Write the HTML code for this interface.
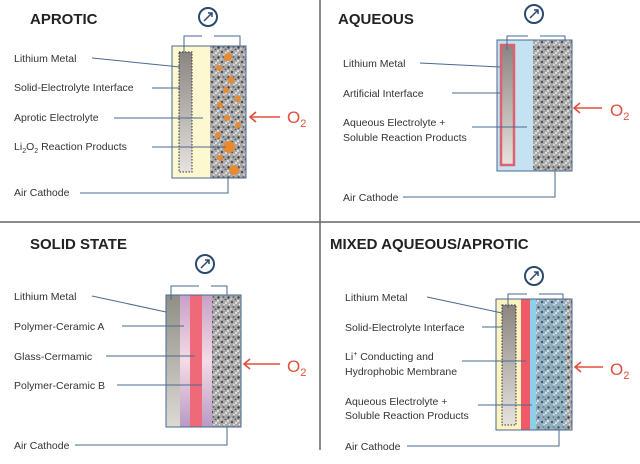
<!DOCTYPE html>
<html><head><meta charset="utf-8"><style>
html,body{margin:0;padding:0;background:#fff}
svg{display:block}
text{font-family:"Liberation Sans",sans-serif;font-size:10.5px;fill:#333}
.t{font-size:15px;font-weight:bold;fill:#222}
.o{font-size:17px;fill:#e0503c}
.l{stroke:#4a6a90;stroke-width:1;fill:none}
.a{stroke:#e0503c;stroke-width:1.6;fill:none}
</style></head><body>
<svg width="640" height="464" viewBox="0 0 640 464" xmlns="http://www.w3.org/2000/svg">
<defs>
<pattern id="por" width="10" height="10" patternUnits="userSpaceOnUse">
<rect width="10" height="10" fill="#a8a8a8"/>
<circle cx="2" cy="2" r="1.1" fill="#444"/><circle cx="6" cy="3" r="1" fill="#eee"/>
<circle cx="8.5" cy="7.5" r="1.2" fill="#3a3a3a"/><circle cx="3.5" cy="7" r="1" fill="#666"/>
<circle cx="8" cy="1" r="0.9" fill="#fff"/><circle cx="1" cy="9" r="0.9" fill="#ddd"/>
<circle cx="5.5" cy="9.5" r="0.9" fill="#555"/><circle cx="9.5" cy="4.5" r="0.8" fill="#f4f4f4"/>
<circle cx="4" cy="4.8" r="0.7" fill="#fff"/>
</pattern>
<pattern id="porb" width="10" height="10" patternUnits="userSpaceOnUse">
<rect width="10" height="10" fill="#93b0c0"/>
<circle cx="2" cy="2" r="1.1" fill="#3a4d5a"/><circle cx="6" cy="3" r="1" fill="#e8f0f4"/>
<circle cx="8.5" cy="7.5" r="1.2" fill="#44525c"/><circle cx="3.5" cy="7" r="1" fill="#6b8494"/>
<circle cx="8" cy="1" r="0.9" fill="#fff"/><circle cx="5.5" cy="9.5" r="0.9" fill="#566"/>
<circle cx="4" cy="4.8" r="0.7" fill="#fff"/>
</pattern>
<linearGradient id="li" x1="0" y1="0" x2="0" y2="1"><stop offset="0" stop-color="#8a8580"/><stop offset="1" stop-color="#e6e2de"/></linearGradient>
<linearGradient id="gs" x1="0" y1="0" x2="0" y2="1"><stop offset="0" stop-color="#8f8f86"/><stop offset="1" stop-color="#ddd9d3"/></linearGradient>
<linearGradient id="pp" x1="0" y1="0" x2="0" y2="1"><stop offset="0" stop-color="#c8a0c8"/><stop offset="0.5" stop-color="#f5dbe6"/><stop offset="1" stop-color="#b89ac6"/></linearGradient>
</defs>

<line x1="320" y1="0" x2="320" y2="450" stroke="#666" stroke-width="1.5"/>
<line x1="0" y1="222" x2="640" y2="222" stroke="#666" stroke-width="1.5"/>

<!-- APROTIC -->
<text x="30" y="24" class="t">APROTIC</text>
<rect x="172" y="46" width="38" height="132" fill="#fdf8d0"/>
<rect x="210" y="46" width="36" height="132" fill="url(#por)"/>
<g fill="#e88a30">
<circle cx="228" cy="57" r="4"/><circle cx="219" cy="68" r="3"/><circle cx="231" cy="80" r="3.5"/><circle cx="226" cy="90" r="3"/><circle cx="238" cy="99" r="3"/><circle cx="220" cy="105" r="3"/><circle cx="227" cy="118" r="3"/><circle cx="238" cy="125" r="3"/><circle cx="218" cy="135" r="3"/><circle cx="229" cy="147" r="6"/><circle cx="234" cy="170" r="5"/><circle cx="220" cy="158" r="3"/></g>
<rect x="172" y="46" width="74" height="132" class="l"/>
<rect x="179" y="52" width="13" height="120" fill="url(#li)" stroke="#333" stroke-dasharray="1.5,1.5"/>
<path class="l" d="M184 52V36H202M214 36H240V46"/>
<circle cx="208" cy="17" r="9" fill="#fff" stroke="#2b4a70" stroke-width="2"/>
<path d="M204 21L212 13M208 13H212V17" stroke="#2b4a70" stroke-width="1.5" fill="none"/>
<text x="14" y="62">Lithium Metal</text><path class="l" d="M92 58L180 67"/>
<text x="14" y="91">Solid-Electrolyte Interface</text><path class="l" d="M152 88H180"/>
<text x="14" y="121">Aprotic Electrolyte</text><path class="l" d="M114 118H203"/>
<text x="14" y="150">Li<tspan dy="3" font-size="7">2</tspan><tspan dy="-3">O</tspan><tspan dy="3" font-size="7">2</tspan><tspan dy="-3"> Reaction Products</tspan></text><path class="l" d="M152 147H226"/>
<text x="14" y="196">Air Cathode</text><path class="l" d="M80 193H228V178"/>
<path class="a" d="M280 117H250M256 112L250 117L256 122"/>
<text x="287" y="123" class="o">O<tspan dy="4" font-size="11">2</tspan></text>

<!-- AQUEOUS -->
<text x="338" y="24" class="t">AQUEOUS</text>
<rect x="497" y="40" width="36" height="131" fill="#c4e2f2"/>
<rect x="533" y="40" width="39" height="131" fill="url(#por)"/>
<rect x="497" y="40" width="75" height="131" class="l"/>
<rect x="501" y="45" width="13" height="120" fill="url(#li)" stroke="#e06070" stroke-width="2.5"/>
<path class="l" d="M507 50V36H528M540 36H565V40"/>
<circle cx="534" cy="14" r="9" fill="#fff" stroke="#2b4a70" stroke-width="2"/>
<path d="M530 18L538 10M534 10H538V14" stroke="#2b4a70" stroke-width="1.5" fill="none"/>
<text x="343" y="67">Lithium Metal</text><path class="l" d="M420 63L500 67"/>
<text x="343" y="97">Artificial Interface</text><path class="l" d="M452 93H500"/>
<text x="343" y="126">Aqueous Electrolyte +</text><text x="343" y="141">Soluble Reaction Products</text><path class="l" d="M472 127H527"/>
<text x="343" y="201">Air Cathode</text><path class="l" d="M403 197H555V171"/>
<path class="a" d="M602 108H574M580 103L574 108L580 113"/>
<text x="610" y="116" class="o">O<tspan dy="4" font-size="11">2</tspan></text>

<!-- SOLID STATE -->
<text x="30" y="249" class="t">SOLID STATE</text>
<rect x="166" y="295" width="14" height="132" fill="url(#gs)"/>
<rect x="180" y="295" width="32" height="132" fill="url(#pp)"/>
<rect x="190" y="295" width="12" height="132" fill="#ee6a78"/>
<rect x="212" y="295" width="29" height="132" fill="url(#por)"/>
<rect x="166" y="295" width="75" height="132" class="l"/>
<path class="l" d="M171 300V286H199M211 286H227V295"/>
<circle cx="205" cy="264" r="9" fill="#fff" stroke="#2b4a70" stroke-width="2"/>
<path d="M201 268L209 260M205 260H209V264" stroke="#2b4a70" stroke-width="1.5" fill="none"/>
<text x="14" y="300">Lithium Metal</text><path class="l" d="M92 296L166 312"/>
<text x="14" y="330">Polymer-Ceramic  A</text><path class="l" d="M122 326H184"/>
<text x="14" y="360">Glass-Cermamic</text><path class="l" d="M106 356H195"/>
<text x="14" y="389">Polymer-Ceramic B</text><path class="l" d="M117 385H202"/>
<text x="14" y="449">Air Cathode</text><path class="l" d="M75 445H227V427"/>
<path class="a" d="M280 364H244M250 359L244 364L250 369"/>
<text x="287" y="372" class="o">O<tspan dy="4" font-size="11">2</tspan></text>

<!-- MIXED -->
<text x="330" y="249" class="t">MIXED AQUEOUS/APROTIC</text>
<rect x="496" y="299" width="25" height="131" fill="#fdf3c0"/>
<rect x="521" y="299" width="9" height="131" fill="#ee5a68"/>
<rect x="530" y="299" width="6" height="131" fill="#8fd0e8"/>
<rect x="536" y="299" width="36" height="131" fill="url(#porb)"/>
<rect x="566" y="299" width="6" height="131" fill="url(#por)"/>
<rect x="496" y="299" width="76" height="131" class="l"/>
<rect x="502" y="305" width="14" height="120" fill="url(#li)" stroke="#333" stroke-dasharray="1.5,1.5"/>
<path class="l" d="M508 308V294H527M539 294H563V299"/>
<circle cx="534" cy="276" r="9" fill="#fff" stroke="#2b4a70" stroke-width="2"/>
<path d="M530 280L538 272M534 272H538V276" stroke="#2b4a70" stroke-width="1.5" fill="none"/>
<text x="345" y="301">Lithium Metal</text><path class="l" d="M427 297L502 313"/>
<text x="345" y="331">Solid-Electrolyte Interface</text><path class="l" d="M482 327H502"/>
<text x="345" y="360">Li<tspan dy="-4" font-size="7">+</tspan><tspan dy="4"> Conducting  and</tspan></text>
<text x="345" y="375">Hydrophobic Membrane</text><path class="l" d="M462 361H526"/>
<text x="345" y="405">Aqueous Electrolyte +</text><text x="345" y="419">Soluble Reaction Products</text><path class="l" d="M478 405H532"/>
<text x="345" y="450">Air Cathode</text><path class="l" d="M407 446H559V430"/>
<path class="a" d="M603 367H575M581 362L575 367L581 372"/>
<text x="610" y="375" class="o">O<tspan dy="4" font-size="11">2</tspan></text>
</svg>
</body></html>
